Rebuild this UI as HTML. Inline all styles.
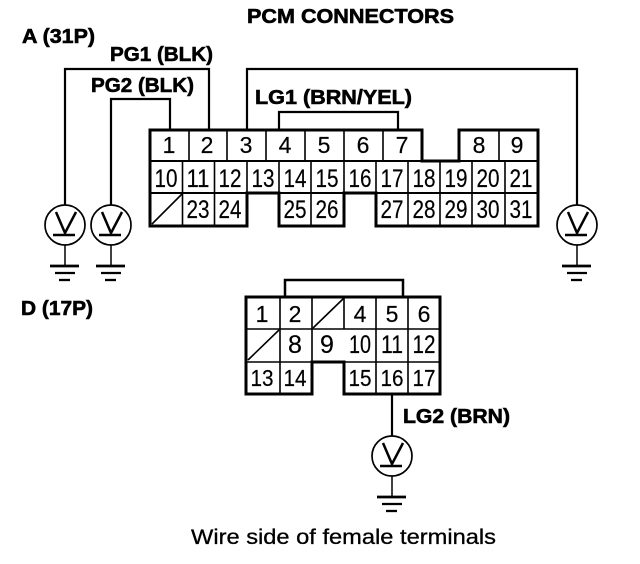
<!DOCTYPE html>
<html>
<head>
<meta charset="utf-8">
<style>
html,body{margin:0;padding:0;background:#fff;width:640px;height:564px;overflow:hidden}
svg{display:block}
.b{font-family:"Liberation Sans",sans-serif;font-weight:bold;font-size:20px;fill:#000;stroke:#000;stroke-width:.6px}
.n{font-family:"Liberation Sans",sans-serif;font-size:23px;fill:#000;text-anchor:middle;stroke:#000;stroke-width:.2px}
.s{font-family:"Liberation Sans",sans-serif;font-size:25px;fill:#000;text-anchor:middle;stroke:#000;stroke-width:.2px}
.w{font-family:"Liberation Sans",sans-serif;font-size:21px;fill:#000;stroke:#000;stroke-width:.3px}
</style>
</head>
<body>
<svg width="640" height="564" viewBox="0 0 640 564" xmlns="http://www.w3.org/2000/svg">
<rect width="640" height="564" fill="#fff"/>
<text class="b" x="247" y="23" textLength="207" lengthAdjust="spacingAndGlyphs">PCM CONNECTORS</text>
<text class="b" x="22" y="43" textLength="73" lengthAdjust="spacingAndGlyphs">A (31P)</text>
<text class="b" x="110" y="61" textLength="103" lengthAdjust="spacingAndGlyphs">PG1 (BLK)</text>
<text class="b" x="91" y="92" textLength="103" lengthAdjust="spacingAndGlyphs">PG2 (BLK)</text>
<text class="b" x="255" y="104" textLength="157" lengthAdjust="spacingAndGlyphs">LG1 (BRN/YEL)</text>
<text class="b" x="21" y="315" textLength="72" lengthAdjust="spacingAndGlyphs">D (17P)</text>
<text class="b" x="403" y="423" textLength="107" lengthAdjust="spacingAndGlyphs">LG2 (BRN)</text>
<text class="w" x="191" y="544" textLength="305" lengthAdjust="spacingAndGlyphs">Wire side of female terminals</text>

<g fill="none" stroke="#000" stroke-width="2.2">
<path d="M65 205V69H209V130"/>
<path d="M111 205V99H170V130"/>
<path d="M247 130V69H577V205"/>
<path d="M279 130V112H398V130"/>
<path d="M285 297V280H403V297" stroke-width="2.500"/>
<path d="M392 394V437"/>
</g>

<g fill="none" stroke="#000" stroke-width="1.600">
<path d="M189 130V161M227 130V161M266 130V161M305 130V161M344 130V161M383 130V161M499 130V161"/>
<path d="M150 161H538M150 193H538" stroke-width="2"/>
<path d="M182.500 161V226M214.500 161V226M247 161V193M279 161V193M311 161V226M344 161V193M376 161V193M408 161V226M440 161V226M472 161V226M505 161V226"/>
<path d="M152 224L182 194"/>
<path d="M280 297V394M312 297V362M344 297V329M376 297V394M408 297V394M246 329H440M246 362H312M344 362H440"/>
<path d="M248 360L279 330M313 328L344 298"/>
</g>
<path d="M150 130H422V161H459V130H538V226H376V193H344V226H279V193H247V226H150Z" fill="none" stroke="#000" stroke-width="3"/>
<path d="M246 297H440V394H344V362H312V394H246Z" fill="none" stroke="#000" stroke-width="3"/>

<g>
<text class="n" x="169" y="153">1</text><text class="n" x="207" y="153">2</text><text class="n" x="246" y="153">3</text><text class="n" x="285" y="153">4</text><text class="n" x="324" y="153">5</text><text class="n" x="363" y="153">6</text><text class="n" x="402" y="153">7</text><text class="n" x="479" y="153">8</text><text class="n" x="517" y="153">9</text>
</g>
<g>
<text class="s" x="166" y="187" textLength="23" lengthAdjust="spacingAndGlyphs">10</text><text class="s" x="198" y="187" textLength="23" lengthAdjust="spacingAndGlyphs">11</text><text class="s" x="230" y="187" textLength="23" lengthAdjust="spacingAndGlyphs">12</text><text class="s" x="263" y="187" textLength="23" lengthAdjust="spacingAndGlyphs">13</text><text class="s" x="295" y="187" textLength="23" lengthAdjust="spacingAndGlyphs">14</text><text class="s" x="327" y="187" textLength="23" lengthAdjust="spacingAndGlyphs">15</text><text class="s" x="360" y="187" textLength="23" lengthAdjust="spacingAndGlyphs">16</text><text class="s" x="392" y="187" textLength="23" lengthAdjust="spacingAndGlyphs">17</text><text class="s" x="424" y="187" textLength="23" lengthAdjust="spacingAndGlyphs">18</text><text class="s" x="456" y="187" textLength="23" lengthAdjust="spacingAndGlyphs">19</text><text class="s" x="488" y="187" textLength="23" lengthAdjust="spacingAndGlyphs">20</text><text class="s" x="521" y="187" textLength="23" lengthAdjust="spacingAndGlyphs">21</text>
<text class="s" x="198" y="218" textLength="23" lengthAdjust="spacingAndGlyphs">23</text><text class="s" x="230" y="218" textLength="23" lengthAdjust="spacingAndGlyphs">24</text><text class="s" x="295" y="218" textLength="23" lengthAdjust="spacingAndGlyphs">25</text><text class="s" x="327" y="218" textLength="23" lengthAdjust="spacingAndGlyphs">26</text><text class="s" x="392" y="218" textLength="23" lengthAdjust="spacingAndGlyphs">27</text><text class="s" x="424" y="218" textLength="23" lengthAdjust="spacingAndGlyphs">28</text><text class="s" x="456" y="218" textLength="23" lengthAdjust="spacingAndGlyphs">29</text><text class="s" x="488" y="218" textLength="23" lengthAdjust="spacingAndGlyphs">30</text><text class="s" x="521" y="218" textLength="23" lengthAdjust="spacingAndGlyphs">31</text>
<text class="n" x="262" y="322">1</text><text class="n" x="295" y="322">2</text><text class="n" x="360" y="322">4</text><text class="n" x="392" y="322">5</text><text class="n" x="424" y="322">6</text>
<text class="s" x="295" y="353">8</text><text class="s" x="327" y="353">9</text><text class="s" x="360" y="353" textLength="22" lengthAdjust="spacingAndGlyphs">10</text><text class="s" x="392" y="353" textLength="22" lengthAdjust="spacingAndGlyphs">11</text><text class="s" x="424" y="353" textLength="23" lengthAdjust="spacingAndGlyphs">12</text>
<text class="n" x="262" y="386" textLength="23" lengthAdjust="spacingAndGlyphs">13</text><text class="n" x="295" y="386" textLength="23" lengthAdjust="spacingAndGlyphs">14</text><text class="n" x="360" y="386" textLength="23" lengthAdjust="spacingAndGlyphs">15</text><text class="n" x="392" y="386" textLength="23" lengthAdjust="spacingAndGlyphs">16</text><text class="n" x="424" y="386" textLength="23" lengthAdjust="spacingAndGlyphs">17</text>
</g>

<defs>
<g id="m">
<circle cx="0" cy="20" r="20" fill="#fff" stroke="#000" stroke-width="1.700"/>
<path d="M-9 7L0 28L11 7" fill="none" stroke="#000" stroke-width="2.500"/>
<path d="M-12 30H10" stroke="#000" stroke-width="2.500"/>
<path d="M0 40V61" stroke="#000" stroke-width="1.500"/>
<path d="M-15 61H14" stroke="#000" stroke-width="2.800"/>
<path d="M-10 68H10" stroke="#000" stroke-width="2.300"/>
<path d="M-6 75H5" stroke="#000" stroke-width="2.300"/>
</g>
</defs>
<use href="#m" x="65" y="205"/>
<use href="#m" x="111" y="205"/>
<use href="#m" x="577" y="205"/>
<use href="#m" x="392" y="436"/>
</svg>
</body>
</html>
